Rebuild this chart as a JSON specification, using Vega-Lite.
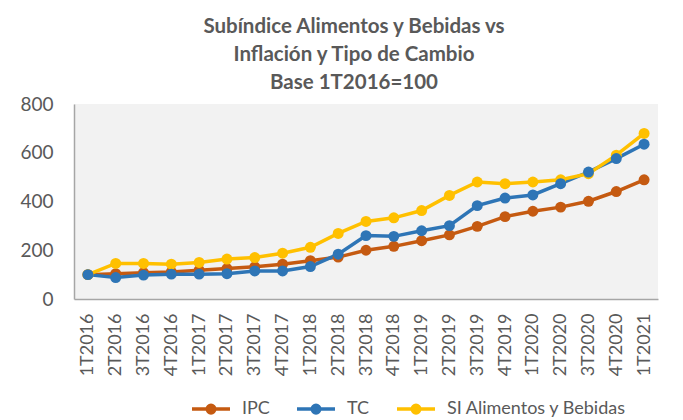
{
  "$schema": "https://vega.github.io/schema/vega-lite/v6.json",
  "autosize": {"type": "none"},
  "padding": {"left": 74, "top": 104, "right": 25, "bottom": 121},
  "width": 584,
  "height": 195,
  "background": "white",
  "title": {
    "text": ["Subíndice Alimentos y Bebidas vs", "Inflación y Tipo de Cambio", "Base 1T2016=100"],
    "font": "Lato",
    "fontSize": 20.5,
    "fontWeight": "bold",
    "color": "#595959",
    "lineHeight": 28,
    "anchor": "middle",
    "dx": -12,
    "offset": 2
  },
  "config": {
    "view": {"fill": "#F2F2F2", "stroke": null},
    "axis": {"labelFont": "Lato", "labelColor": "#595959", "domainColor": "#A6A6A6", "grid": false, "ticks": false, "title": null},
    "legend": {"labelFont": "Lato", "labelColor": "#595959"}
  },
  "data": {
    "values": [
      {"q": "1T2016", "s": "IPC", "v": 100}, {"q": "2T2016", "s": "IPC", "v": 104}, {"q": "3T2016", "s": "IPC", "v": 108}, {"q": "4T2016", "s": "IPC", "v": 111},
      {"q": "1T2017", "s": "IPC", "v": 118}, {"q": "2T2017", "s": "IPC", "v": 125}, {"q": "3T2017", "s": "IPC", "v": 132}, {"q": "4T2017", "s": "IPC", "v": 143},
      {"q": "1T2018", "s": "IPC", "v": 157}, {"q": "2T2018", "s": "IPC", "v": 172}, {"q": "3T2018", "s": "IPC", "v": 200}, {"q": "4T2018", "s": "IPC", "v": 216},
      {"q": "1T2019", "s": "IPC", "v": 239}, {"q": "2T2019", "s": "IPC", "v": 263}, {"q": "3T2019", "s": "IPC", "v": 298}, {"q": "4T2019", "s": "IPC", "v": 338},
      {"q": "1T2020", "s": "IPC", "v": 360}, {"q": "2T2020", "s": "IPC", "v": 377}, {"q": "3T2020", "s": "IPC", "v": 401}, {"q": "4T2020", "s": "IPC", "v": 441},
      {"q": "1T2021", "s": "IPC", "v": 489},
      {"q": "1T2016", "s": "TC", "v": 100}, {"q": "2T2016", "s": "TC", "v": 88}, {"q": "3T2016", "s": "TC", "v": 98}, {"q": "4T2016", "s": "TC", "v": 102},
      {"q": "1T2017", "s": "TC", "v": 102}, {"q": "2T2017", "s": "TC", "v": 104}, {"q": "3T2017", "s": "TC", "v": 115}, {"q": "4T2017", "s": "TC", "v": 115},
      {"q": "1T2018", "s": "TC", "v": 133}, {"q": "2T2018", "s": "TC", "v": 184}, {"q": "3T2018", "s": "TC", "v": 260}, {"q": "4T2018", "s": "TC", "v": 257},
      {"q": "1T2019", "s": "TC", "v": 280}, {"q": "2T2019", "s": "TC", "v": 301}, {"q": "3T2019", "s": "TC", "v": 383}, {"q": "4T2019", "s": "TC", "v": 414},
      {"q": "1T2020", "s": "TC", "v": 427}, {"q": "2T2020", "s": "TC", "v": 473}, {"q": "3T2020", "s": "TC", "v": 521}, {"q": "4T2020", "s": "TC", "v": 576},
      {"q": "1T2021", "s": "TC", "v": 635},
      {"q": "1T2016", "s": "SI Alimentos y Bebidas", "v": 100}, {"q": "2T2016", "s": "SI Alimentos y Bebidas", "v": 146}, {"q": "3T2016", "s": "SI Alimentos y Bebidas", "v": 146}, {"q": "4T2016", "s": "SI Alimentos y Bebidas", "v": 143},
      {"q": "1T2017", "s": "SI Alimentos y Bebidas", "v": 150}, {"q": "2T2017", "s": "SI Alimentos y Bebidas", "v": 164}, {"q": "3T2017", "s": "SI Alimentos y Bebidas", "v": 170}, {"q": "4T2017", "s": "SI Alimentos y Bebidas", "v": 188},
      {"q": "1T2018", "s": "SI Alimentos y Bebidas", "v": 212}, {"q": "2T2018", "s": "SI Alimentos y Bebidas", "v": 269}, {"q": "3T2018", "s": "SI Alimentos y Bebidas", "v": 318}, {"q": "4T2018", "s": "SI Alimentos y Bebidas", "v": 333},
      {"q": "1T2019", "s": "SI Alimentos y Bebidas", "v": 363}, {"q": "2T2019", "s": "SI Alimentos y Bebidas", "v": 425}, {"q": "3T2019", "s": "SI Alimentos y Bebidas", "v": 480}, {"q": "4T2019", "s": "SI Alimentos y Bebidas", "v": 473},
      {"q": "1T2020", "s": "SI Alimentos y Bebidas", "v": 480}, {"q": "2T2020", "s": "SI Alimentos y Bebidas", "v": 489}, {"q": "3T2020", "s": "SI Alimentos y Bebidas", "v": 514}, {"q": "4T2020", "s": "SI Alimentos y Bebidas", "v": 590},
      {"q": "1T2021", "s": "SI Alimentos y Bebidas", "v": 679}
    ]
  },
  "mark": {"type": "line", "strokeWidth": 3.5, "point": {"filled": true, "size": 120, "opacity": 1}},
  "encoding": {
    "x": {
      "field": "q", "type": "ordinal", "sort": null,
      "scale": {"paddingInner": 0, "paddingOuter": 0.5},
      "axis": {"labelAngle": -90, "labelFontSize": 18, "labelPadding": 14, "domainWidth": 1.5}
    },
    "y": {
      "field": "v", "type": "quantitative",
      "scale": {"domain": [0, 800]},
      "axis": {"values": [0, 200, 400, 600, 800], "labelFontSize": 19, "labelPadding": 21, "domainWidth": 1.5}
    },
    "color": {
      "field": "s", "type": "nominal", "sort": ["IPC", "TC", "SI Alimentos y Bebidas"],
      "scale": {"domain": ["IPC", "TC", "SI Alimentos y Bebidas"], "range": ["#C55A11", "#2E75B6", "#FFC000"]},
      "legend": {
        "orient": "none", "direction": "horizontal", "title": null,
        "legendX": 116, "legendY": 284,
        "labelFontSize": 18, "labelLimit": 400, "symbolType": "M-1,0L1,0M-0.2,0a0.2,0.2 0 1,0 0.4,0a0.2,0.2 0 1,0 -0.4,0",
        "symbolSize": 1444, "symbolStrokeWidth": 3.5, "columnPadding": 20, "labelOffset": 10
      }
    },
    "order": {"field": "s"}
  }
}
